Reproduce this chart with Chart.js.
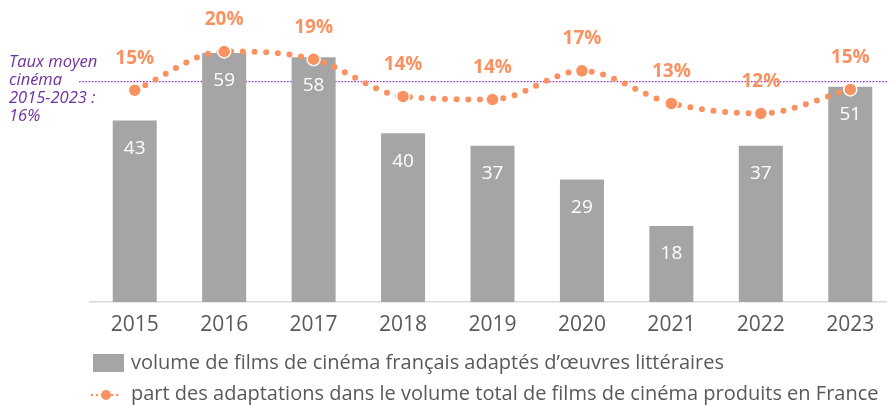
<!DOCTYPE html>
<html>
<head>
<meta charset="utf-8">
<script src="https://cdn.jsdelivr.net/npm/chart.js@4/dist/chart.umd.min.js"></script>
<style>
  html, body { margin: 0; padding: 0; background: #fff; overflow: hidden; }
  #chart-container { width: 895px; height: 405px; }
</style>
</head>
<body>
<div id="chart-container"><canvas id="chart" width="895" height="405"></canvas></div>
<script>
const years = ["2015", "2016", "2017", "2018", "2019", "2020", "2021", "2022", "2023"];
const filmVolume = [43, 59, 58, 40, 37, 29, 18, 37, 51];
const adaptationShare = [14.9, 19.9, 18.9, 14.1, 13.7, 17.4, 13.2, 11.9, 15.0];
const shareLabels = ["15%", "20%", "19%", "14%", "14%", "17%", "13%", "12%", "15%"];
const averageShare = 16;
const averageText = ["Taux moyen", "cinéma", "2015-2023 :", "16%"];
const legendText = [
  "volume de films de cinéma français adaptés d’œuvres littéraires",
  "part des adaptations dans le volume total de films de cinéma produits en France"
];

const FONT = '"Open Sans", sans-serif';
const grey = "#A5A5A5";
const orange = "#FA9160";
const purple = "#7030A0";
const textGrey = "#595959";

const decorations = {
  id: "decorations",
  beforeDatasetsDraw(chart) {
    const ctx = chart.ctx;
    const y = chart.scales.y2.getPixelForValue(averageShare);
    ctx.save();
    ctx.strokeStyle = "#9531E0";
    ctx.lineWidth = 1.2;
    ctx.setLineDash([1.6, 1.6]);
    ctx.beginPath();
    ctx.moveTo(79, y);
    ctx.lineTo(887, y);
    ctx.stroke();
    ctx.setLineDash([]);
    ctx.fillStyle = purple;
    ctx.font = "italic 16.5px " + FONT;
    ctx.textAlign = "left";
    ctx.textBaseline = "middle";
    averageText.forEach(function (t, i) {
      ctx.fillText(t, 9, y - 19 + i * 18);
    });
    ctx.restore();
  },
  afterDatasetsDraw(chart) {
    const ctx = chart.ctx;
    ctx.save();
    ctx.textAlign = "center";
    ctx.textBaseline = "middle";
    // bar values
    ctx.fillStyle = "#fff";
    ctx.font = "19px " + FONT;
    chart.getDatasetMeta(1).data.forEach(function (bar, i) {
      ctx.fillText(filmVolume[i], bar.x, bar.y + 28);
    });
    // share labels
    ctx.fillStyle = orange;
    ctx.font = "bold 19px " + FONT;
    chart.getDatasetMeta(0).data.forEach(function (pt, i) {
      ctx.fillText(shareLabels[i], pt.x, pt.y - 32);
    });
    ctx.restore();
  },
  afterDraw(chart) {
    const ctx = chart.ctx;
    ctx.save();
    // fit the legend text to the width it takes in the reference
    let size = 18;
    ctx.font = size + "px " + FONT;
    const w = ctx.measureText(legendText[1]).width;
    size = size * 748 / w;
    ctx.font = size + "px " + FONT;
    ctx.fillStyle = textGrey;
    ctx.textAlign = "left";
    ctx.textBaseline = "middle";
    ctx.fillText(legendText[0], 131, 363);
    ctx.fillText(legendText[1], 131, 394);

    ctx.fillStyle = grey;
    ctx.fillRect(93, 354, 31, 18);

    ctx.fillStyle = orange;
    for (let x = 92; x <= 121; x += 5) {
      ctx.beginPath();
      ctx.arc(x, 395, 1.3, 0, Math.PI * 2);
      ctx.fill();
    }
    ctx.beginPath();
    ctx.arc(106, 395, 5, 0, Math.PI * 2);
    ctx.fill();
    ctx.restore();
  }
};

const ctx = document.getElementById("chart");

window.myChart = new Chart(ctx, {
  type: "bar",
  data: {
    labels: years,
    datasets: [
      {
        type: "line",
        label: legendText[1],
        data: adaptationShare,
        yAxisID: "y2",
        order: 0,
        borderColor: orange,
        borderWidth: 6,
        borderDash: [0, 11.7],
        borderCapStyle: "round",
        cubicInterpolationMode: "monotone",
        fill: false,
        clip: false,
        pointRadius: 6.5,
        pointBackgroundColor: orange,
        pointBorderColor: "#fff",
        pointBorderWidth: 1.5
      },
      {
        type: "bar",
        label: legendText[0],
        data: filmVolume,
        yAxisID: "y",
        order: 1,
        backgroundColor: grey,
        categoryPercentage: 1,
        barPercentage: 0.492
      }
    ]
  },
  options: {
    responsive: false,
    animation: false,
    layout: { autoPadding: false, padding: { left: 90, right: 0, top: 20, bottom: 0 } },
    plugins: {
      legend: { display: false },
      tooltip: { enabled: false }
    },
    scales: {
      x: {
        grid: { display: false, drawTicks: false },
        border: { color: "#D9D9D9", width: 1.5 },
        ticks: { color: textGrey, font: { family: FONT, size: 21 }, padding: 10 },
        afterFit: function (scale) { scale.height = 103; }
      },
      y: { display: false, min: 0, max: 66.8 },
      y2: { display: false, min: -12.43, max: 23.96 }
    }
  },
  plugins: [decorations]
});
</script>
</body>
</html>
